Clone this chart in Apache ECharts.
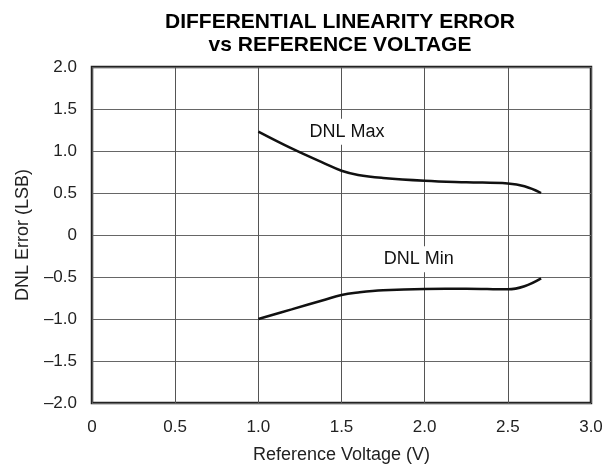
<!DOCTYPE html>
<html>
<head>
<meta charset="utf-8">
<script src="https://cdn.jsdelivr.net/npm/echarts@6/dist/echarts.min.js"></script>
<style>
  html, body { margin: 0; padding: 0; background: #fff; }
  #chart { width: 611px; height: 470px; }
</style>
</head>
<body>
<div id="chart"></div>
<script>
  // reference voltage (V)
  const vref = [1.0, 1.2, 1.4, 1.5, 1.6, 1.75, 2.0, 2.25, 2.5, 2.6, 2.7];
  const dnlMax = [1.23, 1.03, 0.85, 0.765, 0.715, 0.68, 0.647, 0.628, 0.613, 0.58, 0.50];
  const dnlMin = [-1.0, -0.886, -0.77, -0.714, -0.685, -0.658, -0.642, -0.64, -0.647, -0.61, -0.516];
  // curve labels: [x, y, text]
  const curveLabels = [[1.533, 1.23, 'DNL Max'], [1.965, -0.29, 'DNL Min']];

  const font = '"Liberation Sans", Arial, sans-serif';
  const fmt = v => (v === 0 ? '0' : v.toFixed(1).replace('-', '\u2013'));

  const chart = echarts.init(document.getElementById('chart'));

  function labelPoint(item) {
    return {
      symbol: 'circle',
      symbolSize: 0,
      label: {
        show: true,
        position: 'inside',
        fontFamily: font,
        fontSize: 18,
        color: '#111',
        backgroundColor: '#fff',
        padding: [4, 3],
        formatter: p => p.name,
      },
      data: [{name: item[2], coord: [item[0], item[1]]}],
    };
  }

  chart.setOption({
    backgroundColor: '#fff',
    animation: false,
    title: {
      text: 'DIFFERENTIAL LINEARITY ERROR\nvs REFERENCE VOLTAGE',
      left: 335,
      top: 6,
      textAlign: 'center',
      textStyle: {
        fontFamily: font,
        fontSize: 21,
        fontWeight: 'bold',
        color: '#000',
        lineHeight: 23,
      },
    },
    grid: {
      left: 92,
      right: 20,
      top: 67,
      bottom: 67,
      show: true,
      borderColor: '#222',
      borderWidth: 2.5,
    },
    xAxis: {
      type: 'value',
      min: 0,
      max: 3,
      interval: 0.5,
      name: 'Reference Voltage (V)',
      nameLocation: 'middle',
      nameGap: 43,
      nameTextStyle: {fontFamily: font, fontSize: 18, color: '#222'},
      axisLine: {show: false},
      axisTick: {show: false},
      axisLabel: {
        margin: 16,
        fontFamily: font,
        fontSize: 17,
        color: '#222',
        formatter: fmt,
      },
      splitLine: {lineStyle: {color: '#555', width: 1}},
    },
    yAxis: {
      type: 'value',
      min: -2,
      max: 2,
      interval: 0.5,
      name: 'DNL Error (LSB)',
      nameLocation: 'middle',
      nameGap: 60,
      nameTextStyle: {fontFamily: font, fontSize: 18, color: '#222'},
      axisLine: {show: false},
      axisTick: {show: false},
      axisLabel: {
        margin: 15,
        fontFamily: font,
        fontSize: 17,
        color: '#222',
        formatter: fmt,
      },
      splitLine: {lineStyle: {color: '#666', width: 1}},
    },
    series: [
      {
        name: 'DNL Max',
        type: 'line',
        smooth: 0.4,
        showSymbol: false,
        lineStyle: {color: '#111', width: 2.5},
        data: vref.map((x, i) => [x, dnlMax[i]]),
        markPoint: labelPoint(curveLabels[0]),
      },
      {
        name: 'DNL Min',
        type: 'line',
        smooth: 0.4,
        showSymbol: false,
        lineStyle: {color: '#111', width: 2.5},
        data: vref.map((x, i) => [x, dnlMin[i]]),
        markPoint: labelPoint(curveLabels[1]),
      },
    ],
  });
</script>
</body>
</html>
